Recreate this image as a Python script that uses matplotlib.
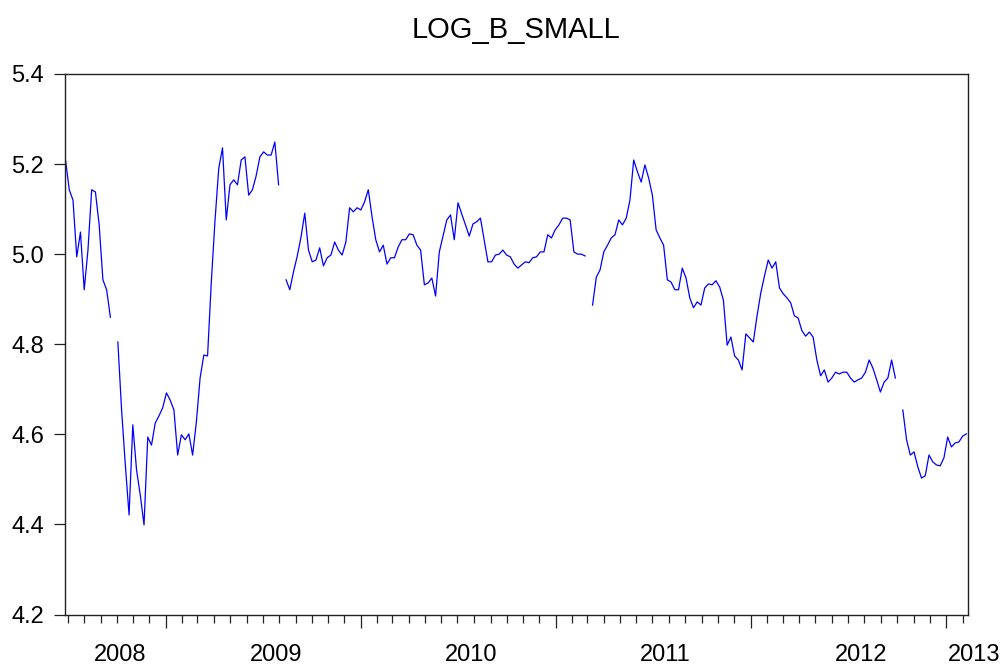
import numpy as np
import pandas as pd
import matplotlib
matplotlib.use("Agg")
import matplotlib.pyplot as plt
import matplotlib.dates as mdates
from matplotlib.ticker import NullFormatter, FormatStrFormatter, MultipleLocator

plt.rcParams["font.family"] = ["Liberation Sans", "DejaVu Sans"]

# ---- data: weekly readings of LOG_B_SMALL (NaN = missing obs) ----
start_date = "2008-06-27"
log_b_small = [
    5.209, 5.143, 5.120, 4.994, 5.049, 4.921, 5.009, 5.143, 5.138, 5.065,
    4.943, 4.921, 4.860, np.nan, 4.805, 4.654, 4.532, 4.421, 4.621, 4.521,
    4.465, 4.399, 4.594, 4.576, 4.625, 4.641, 4.659, 4.692, 4.676, 4.654,
    4.554, 4.599, 4.588, 4.601, 4.554, 4.627, 4.725, 4.776, 4.774, 4.938,
    5.076, 5.191, 5.236, 5.076, 5.154, 5.165, 5.154, 5.209, 5.216, 5.131,
    5.143, 5.174, 5.216, 5.227, 5.220, 5.220, 5.249, 5.154, np.nan, 4.943,
    4.921, 4.961, 4.996, 5.038, 5.091, 5.009, 4.983, 4.987, 5.014, 4.974,
    4.992, 4.998, 5.027, 5.009, 4.998, 5.027, 5.103, 5.094, 5.103, 5.098,
    5.116, 5.143, 5.083, 5.032, 5.005, 5.020, 4.978, 4.992, 4.992, 5.016,
    5.032, 5.032, 5.045, 5.043, 5.020, 5.009, 4.932, 4.936, 4.947, 4.907,
    5.005, 5.040, 5.076, 5.087, 5.032, 5.114, 5.089, 5.065, 5.040, 5.067,
    5.072, 5.080, 5.032, 4.983, 4.983, 4.998, 5.000, 5.009, 4.998, 4.994,
    4.978, 4.969, 4.976, 4.983, 4.981, 4.992, 4.994, 5.005, 5.005, 5.043,
    5.036, 5.054, 5.065, 5.080, 5.080, 5.076, 5.005, 5.000, 5.000, 4.996,
    np.nan, 4.887, 4.949, 4.965, 5.005, 5.020, 5.036, 5.043, 5.076, 5.065,
    5.080, 5.120, 5.209, 5.183, 5.160, 5.198, 5.169, 5.131, 5.054, 5.036,
    5.020, 4.943, 4.938, 4.921, 4.921, 4.969, 4.947, 4.903, 4.881, 4.894,
    4.887, 4.925, 4.934, 4.932, 4.941, 4.927, 4.898, 4.798, 4.816, 4.774,
    4.765, 4.743, 4.823, 4.814, 4.805, 4.863, 4.914, 4.952, 4.987, 4.969,
    4.983, 4.925, 4.912, 4.903, 4.892, 4.863, 4.858, 4.830, 4.818, 4.827,
    4.816, 4.765, 4.730, 4.743, 4.716, 4.725, 4.738, 4.734, 4.738, 4.738,
    4.725, 4.716, 4.721, 4.725, 4.738, 4.765, 4.747, 4.721, 4.694, 4.716,
    4.725, 4.765, 4.725, np.nan, 4.654, 4.588, 4.554, 4.561, 4.528, 4.503,
    4.508, 4.554, 4.539, 4.532, 4.530, 4.548, 4.594, 4.572, 4.581, 4.583,
    4.596, 4.601,
]
year_labels = ["2008", "2009", "2010", "2011", "2012", "2013"]
year_label_dates = ["2008-10-08", "2009-07-26", "2010-07-26",
                    "2011-07-26", "2012-07-26", "2013-02-22"]

dates = pd.date_range(start_date, periods=len(log_b_small), freq="7D")
series = pd.Series(log_b_small, index=dates)

# ---- figure ----
fig = plt.figure(figsize=(10.06, 6.70), dpi=100)
ax = fig.add_axes([0.0646, 0.0828, 0.8976, 0.8068])

ax.plot(series.index, series.values, color="#0000ff", lw=0.9)

ax.set_xlim(pd.Timestamp("2008-06-26"), pd.Timestamp("2013-02-11"))
ax.set_ylim(4.2, 5.4)

# y axis
ax.yaxis.set_major_locator(MultipleLocator(0.2))
ax.yaxis.set_major_formatter(FormatStrFormatter("%.1f"))
ax.tick_params(axis="y", direction="out", length=8, width=0.9,
               pad=7, labelsize=17, color="#222222", labelcolor="black")

# x axis: monthly minor ticks, yearly major ticks, labels placed mid-year
ax.xaxis.set_major_locator(mdates.YearLocator())
ax.xaxis.set_minor_locator(mdates.MonthLocator())
ax.xaxis.set_major_formatter(NullFormatter())
ax.xaxis.set_minor_formatter(NullFormatter())
ax.tick_params(axis="x", which="major", direction="out", length=9, width=0.9,
               color="#222222")
ax.tick_params(axis="x", which="minor", direction="out", length=5.5, width=0.9,
               color="#222222")

trans = matplotlib.transforms.blended_transform_factory(ax.transData, ax.transAxes)
for lab, d in zip(year_labels, year_label_dates):
    ax.text(mdates.date2num(pd.Timestamp(d)), -0.075, lab, transform=trans,
            ha="center", va="center", fontsize=17, color="black", clip_on=False)

for sp in ax.spines.values():
    sp.set_linewidth(1.0)
    sp.set_color("#222222")

ax.set_title("LOG_B_SMALL", fontsize=21, pad=26)

fig.savefig("out.png", dpi=100)
